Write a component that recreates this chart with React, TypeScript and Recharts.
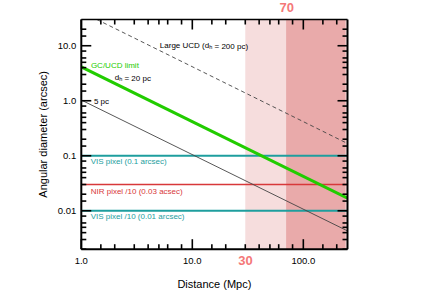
import React from 'react';
import {
  ComposedChart,
  Line,
  XAxis,
  YAxis,
  ReferenceArea,
  ReferenceLine,
  ReferenceDot,
} from 'recharts';

// ---- data ----
const xTicks = [1, 1.5, 2, 3, 4, 5, 6, 8, 10, 15, 20, 30, 40, 50, 60, 80, 100, 150, 200];
const yTicks = [
  0.002, 0.003, 0.004, 0.005, 0.006, 0.008, 0.01, 0.015, 0.02, 0.03, 0.04, 0.05, 0.06, 0.08,
  0.1, 0.15, 0.2, 0.3, 0.4, 0.5, 0.6, 0.8, 1, 1.5, 2, 3, 4, 5, 6, 8, 10, 15, 20,
];
const xTickLabels: Record<string, string> = { '1': '1.0', '10': '10.0', '100': '100.0' };
const yTickLabels: Record<string, string> = { '0.01': '0.01', '0.1': '0.1', '1': '1.0', '10': '10.0' };
const xDomain = [1, 250];
const yDomain = [0.002, 30];

const line5pc = [
  { x: 1, y: 1.03 },
  { x: 250, y: 0.0043 },
];
const line20pc = [
  { x: 1, y: 4.13 },
  { x: 250, y: 0.017 },
];
const line200pc = [
  { x: 1.38, y: 30 },
  { x: 250, y: 0.167 },
];
const pixelLevels = [0.1, 0.03, 0.01];
const pixelColors = ['#1e9e9e', '#d8383a', '#1e9e9e'];
const pixelWidths = [2, 1.5, 2];
const pixelLabels = ['VIS pixel (0.1 arcsec)', 'NIR pixel /10 (0.03 acsec)', 'VIS pixel /10 (0.01 arcsec)'];
const pixelLabelY = [0.08, 0.0221, 0.008];

const lightRange = [30, 250];
const darkRange = [70, 240];

const FONT = '"Liberation Sans", Arial, Helvetica, sans-serif';
const TICK_W = 1.6;

const isMajor = (v: number) => Math.abs(Math.log10(v) - Math.round(Math.log10(v))) < 1e-6;
// tick lengths expressed as multiplicative steps on the log axes (major / minor)
const xStep = (v: number) => (isMajor(v) ? 1.52 : 1.233); // vertical ticks on x-axes (along y)
const yStep = (v: number) => (isMajor(v) ? 1.23 : 1.109); // horizontal ticks on y-axes (along x)

const BottomLabel = (p: any) => {
  const lbl = xTickLabels[String(p.payload.value)];
  if (!lbl) return <g />;
  return (
    <text x={p.x} y={p.y + 11} textAnchor="middle" dominantBaseline="central" fontSize={9.5} fontFamily={FONT} fill="#000">
      {lbl}
    </text>
  );
};
const LeftLabel = (p: any) => {
  const lbl = yTickLabels[String(p.payload.value)];
  if (!lbl) return <g />;
  return (
    <text x={p.x - 5} y={p.y} textAnchor="end" dominantBaseline="central" fontSize={9.5} fontFamily={FONT} fill="#000">
      {lbl}
    </text>
  );
};

const textShape =
  (content: React.ReactNode, color: string, size: number, anchor: string = 'start', weight: string = 'normal') =>
  (p: any) =>
    (
      <text
        x={p.cx}
        y={p.cy}
        textAnchor={anchor}
        dominantBaseline="central"
        fontSize={size}
        fontFamily={FONT}
        fill={color}
        fontWeight={weight}
      >
        {content}
      </text>
    );

const sub = (s: string) => (
  <tspan fontSize={5.5} dy={1.5}>
    {s}
  </tspan>
);

export default function App() {
  return (
    <div style={{ position: 'absolute', left: 0, top: 0 }}>
      <ComposedChart width={431} height={292} margin={{ top: 19.5, right: 83.5, bottom: 0, left: 0 }}>
        <ReferenceArea xAxisId="b" yAxisId="l" x1={lightRange[0]} x2={lightRange[1]} fill="#f6dddd" fillOpacity={1} stroke="none" ifOverflow="hidden" />
        <ReferenceArea xAxisId="b" yAxisId="l" x1={darkRange[0]} x2={darkRange[1]} fill="#e9aaaa" fillOpacity={1} stroke="none" ifOverflow="hidden" />

        {pixelLevels.map((v, i) => (
          <ReferenceLine key={'pl' + i} xAxisId="b" yAxisId="l" y={v} stroke={pixelColors[i]} strokeWidth={pixelWidths[i]} />
        ))}

        <Line xAxisId="b" yAxisId="l" data={line5pc} dataKey="y" stroke="#444" strokeWidth={0.9} dot={false} isAnimationActive={false} />
        <Line xAxisId="b" yAxisId="l" data={line200pc} dataKey="y" stroke="#444" strokeWidth={0.9} strokeDasharray="4 3" dot={false} isAnimationActive={false} />
        <Line xAxisId="b" yAxisId="l" data={line20pc} dataKey="y" stroke="#22cc00" strokeWidth={3} dot={false} isAnimationActive={false} />

        <XAxis
          xAxisId="b"
          type="number"
          dataKey="x"
          scale="log"
          domain={xDomain}
          allowDataOverflow
          ticks={xTicks}
          interval={0}
          orientation="bottom"
          height={42.8}
          tickSize={0}
          tickMargin={0}
          tickLine={false}
          tick={BottomLabel}
          axisLine={{ stroke: '#000', strokeWidth: 2 }}
          label={{
            content: (props: any) => {
              const vb = props.viewBox;
              return (
                <text x={vb.x + vb.width / 2} y={vb.y + 35} textAnchor="middle" dominantBaseline="central" fontSize={11} fontFamily={FONT} fill="#000">
                  Distance (Mpc)
                </text>
              );
            },
          }}
        />
        <YAxis
          yAxisId="l"
          type="number"
          scale="log"
          domain={yDomain}
          allowDataOverflow
          ticks={yTicks}
          interval={0}
          orientation="left"
          width={81.3}
          tickSize={0}
          tickMargin={0}
          tickLine={false}
          tick={LeftLabel}
          axisLine={{ stroke: '#000', strokeWidth: 2 }}
          label={{
            content: (props: any) => {
              const vb = props.viewBox;
              const cx = vb.x + 43;
              const cy = vb.y + vb.height / 2;
              return (
                <text x={cx} y={cy} transform={`rotate(-90 ${cx} ${cy})`} textAnchor="middle" dominantBaseline="central" fontSize={11} fontFamily={FONT} fill="#000">
                  Angular diameter (arcsec)
                </text>
              );
            },
          }}
        />

        {/* top and right frame lines */}
        <ReferenceLine xAxisId="b" yAxisId="l" y={yDomain[1]} stroke="#000" strokeWidth={1.5} ifOverflow="visible" />
        <ReferenceLine xAxisId="b" yAxisId="l" x={xDomain[1]} stroke="#000" strokeWidth={2} ifOverflow="visible" />

        {/* inward tick marks on all four sides, as short reference segments */}
        {xTicks.map((v) => (
          <ReferenceLine
            key={'tb' + v}
            xAxisId="b"
            yAxisId="l"
            ifOverflow="visible"
            stroke="#000"
            strokeWidth={TICK_W}
            segment={[{ x: v, y: yDomain[0] }, { x: v, y: yDomain[0] * xStep(v) }]}
          />
        ))}
        {xTicks.map((v) => (
          <ReferenceLine
            key={'tt' + v}
            xAxisId="b"
            yAxisId="l"
            ifOverflow="visible"
            stroke="#000"
            strokeWidth={TICK_W}
            segment={[{ x: v, y: yDomain[1] }, { x: v, y: yDomain[1] / xStep(v) }]}
          />
        ))}
        {yTicks.map((v) => (
          <ReferenceLine
            key={'tl' + v}
            xAxisId="b"
            yAxisId="l"
            ifOverflow="visible"
            stroke="#000"
            strokeWidth={TICK_W}
            segment={[{ x: xDomain[0], y: v }, { x: xDomain[0] * yStep(v), y: v }]}
          />
        ))}
        {yTicks.map((v) => (
          <ReferenceLine
            key={'tr' + v}
            xAxisId="b"
            yAxisId="l"
            ifOverflow="visible"
            stroke="#000"
            strokeWidth={TICK_W}
            segment={[{ x: xDomain[1], y: v }, { x: xDomain[1] / yStep(v), y: v }]}
          />
        ))}

        {pixelLevels.map((v, i) => (
          <ReferenceDot
            key={'plab' + i}
            xAxisId="b"
            yAxisId="l"
            x={1.215}
            y={pixelLabelY[i]}
            r={0}
            ifOverflow="visible"
            shape={textShape(pixelLabels[i], pixelColors[i], 8)}
          />
        ))}

        <ReferenceDot xAxisId="b" yAxisId="l" x={5.1} y={10.3} r={0} ifOverflow="visible"
          shape={textShape(<>Large UCD (d{sub('h')} = 200 pc)</>, '#000', 8)} />
        <ReferenceDot xAxisId="b" yAxisId="l" x={1.22} y={4.45} r={0} ifOverflow="visible"
          shape={textShape('GC/UCD limit', '#22cc00', 8)} />
        <ReferenceDot xAxisId="b" yAxisId="l" x={2.0} y={2.7} r={0} ifOverflow="visible"
          shape={textShape(<>d{sub('h')} = 20 pc</>, '#000', 8)} />
        <ReferenceDot xAxisId="b" yAxisId="l" x={1.3} y={0.96} r={0} ifOverflow="visible"
          shape={textShape('5 pc', '#000', 8)} />

        <ReferenceDot xAxisId="b" yAxisId="l" x={71} y={50} r={0} ifOverflow="visible"
          shape={textShape('70', '#f47878', 13, 'middle', 'bold')} />
        <ReferenceDot xAxisId="b" yAxisId="l" x={30.2} y={0.00127} r={0} ifOverflow="visible"
          shape={textShape('30', '#f47878', 13, 'middle', 'bold')} />
      </ComposedChart>
    </div>
  );
}
